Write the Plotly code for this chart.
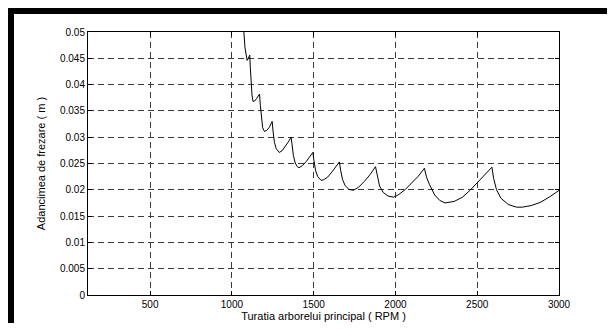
import plotly.graph_objects as go

# Stability lobe envelope
rpm = [1060, 1068, 1073, 1080, 1087, 1093, 1100, 1109,
       1113, 1118, 1123, 1129, 1140, 1152, 1169,
       1174, 1180, 1188, 1199, 1213, 1229, 1246,
       1252, 1260, 1271, 1289, 1306, 1325, 1345, 1362,
       1368, 1376, 1387, 1400, 1410, 1432, 1455, 1475, 1495,
       1502, 1512, 1525, 1545, 1560, 1585, 1612, 1636, 1657,
       1665, 1676, 1692, 1715, 1742, 1775, 1810, 1845, 1878,
       1888, 1903, 1925, 1955, 1990, 2020, 2058, 2100, 2140, 2177,
       2190, 2208, 2240, 2270, 2303, 2360, 2410, 2456, 2500, 2545, 2590,
       2600, 2618, 2645, 2690, 2740, 2775, 2830, 2885, 2945, 3000]
depth = [0.0580, 0.0520, 0.0500, 0.0470, 0.0452, 0.0446, 0.0450, 0.0456,
         0.0430, 0.0400, 0.0380, 0.0368, 0.0369, 0.0374, 0.0382,
         0.0360, 0.0335, 0.0318, 0.0311, 0.0313, 0.0319, 0.0330,
         0.0310, 0.0290, 0.0278, 0.0271, 0.0274, 0.0282, 0.0291, 0.0300,
         0.0284, 0.0265, 0.0251, 0.0244, 0.0242, 0.0246, 0.0254, 0.0262, 0.0271,
         0.0255, 0.0236, 0.0225, 0.0218, 0.0219, 0.0224, 0.0234, 0.0243, 0.0253,
         0.0237, 0.0220, 0.0208, 0.0201, 0.0199, 0.0205, 0.0216, 0.0229, 0.0244,
         0.0226, 0.0207, 0.0195, 0.0188, 0.0186, 0.0191, 0.0200, 0.0213, 0.0226, 0.0241,
         0.0224, 0.0210, 0.0190, 0.0180, 0.0175, 0.0178, 0.0186, 0.0199, 0.0214, 0.0228, 0.0243,
         0.0222, 0.0200, 0.0184, 0.0172, 0.0167, 0.0167, 0.0170, 0.0176, 0.0187, 0.0199]

x_ticks = [500, 1000, 1500, 2000, 2500, 3000]
y_ticks = [0, 0.005, 0.01, 0.015, 0.02, 0.025, 0.03, 0.035, 0.04, 0.045, 0.05]
y_tick_labels = ["0", "0.005", "0.01", "0.015", "0.02", "0.025", "0.03",
                 "0.035", "0.04", "0.045", "0.05"]

x_title = "Turatia arborelui principal ( RPM )"
y_title = "Adancimea de frezare ( m )"

# page has an 8px body margin on every side; size the figure so the page
# fits the 615x331 window without scrolling
OFF = 8
W, H = 615 - 2 * OFF, 331 - 2 * OFF
L, T = 88 - OFF, 32 - OFF
R = W - (559 - OFF)
B = H - (295 - OFF)

fig = go.Figure()
fig.add_trace(go.Scatter(x=rpm, y=depth, mode="lines",
                         line=dict(color="black", width=1), showlegend=False,
                         hoverinfo="skip"))

font = dict(family="Liberation Sans, Arial, sans-serif", size=10, color="black")
axis_common = dict(showline=True, linecolor="black", linewidth=1, mirror="ticks",
                   ticks="inside", ticklen=4, tickcolor="black", tickwidth=1,
                   showgrid=True, gridcolor="#3a3a3a", gridwidth=1,
                   griddash="6px,4px", zeroline=False, tickfont=font,
                   automargin=False)

fig.update_xaxes(range=[120, 3000], tickvals=x_ticks,
                 ticktext=[str(v) for v in x_ticks],
                 domain=[L / W, (W - R) / W],
                 title=dict(text=x_title, font=dict(family=font["family"], size=11, color="black"),
                            standoff=1),
                 **axis_common)
fig.update_yaxes(range=[0, 0.05], tickvals=y_ticks, ticktext=y_tick_labels,
                 domain=[B / H, (H - T) / H],
                 title=dict(text=y_title, font=dict(family=font["family"], size=11, color="black"),
                            standoff=12),
                 **axis_common)

# thick black frame on left and top edges of the picture
fig.add_shape(type="rect", xref="paper", yref="paper", layer="above",
              x0=0, x1=6 / W, y0=0, y1=1,
              fillcolor="black", line=dict(width=0))
fig.add_shape(type="rect", xref="paper", yref="paper", layer="above",
              x0=0, x1=1, y0=1 - 6 / H, y1=1,
              fillcolor="black", line=dict(width=0))

fig.update_layout(width=W, height=H, margin=dict(l=0, r=0, t=0, b=0, pad=0),
                  paper_bgcolor="white", plot_bgcolor="white", font=font)

fig.write_html("out.html", config={"displayModeBar": False})
